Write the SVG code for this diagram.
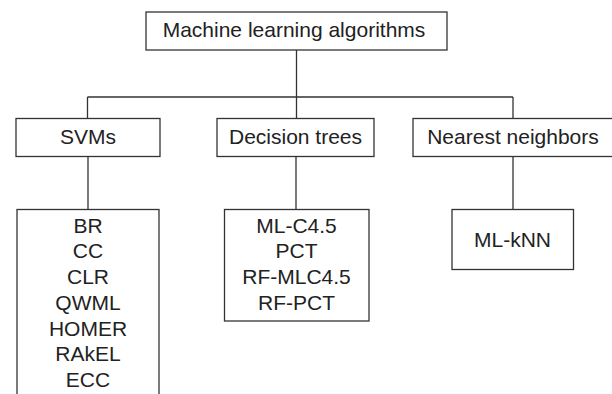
<svg xmlns="http://www.w3.org/2000/svg" width="612" height="394" viewBox="0 0 612 394">
<style>
.box{fill:#fff;stroke:#333;stroke-width:1.3}
.lbl{font-family:"Liberation Sans",Arial,sans-serif;font-size:21px;fill:#222;text-anchor:middle}
.con{fill:none;stroke:#333;stroke-width:1.3}
</style>
<rect width="612" height="394" fill="#fff"/>
<g id="connectors">
<path class="con" d="M296.5 50V97M87.5 97H513M87.5 97V118.5M296.5 97V118.5M513 97V118.5"/>
<path class="con" d="M88 156.5V209.5M296 156.5V209.5M513 156.5V209.5"/>
</g>
<g id="root">
<rect class="box" x="146" y="12" width="301" height="38"/>
<text class="lbl" x="294" y="37">Machine learning algorithms</text>
</g>
<g id="svms">
<rect class="box" x="16" y="118.5" width="144" height="38"/>
<text class="lbl" x="88" y="144">SVMs</text>
</g>
<g id="decision-trees">
<rect class="box" x="217" y="118.5" width="157" height="38"/>
<text class="lbl" x="295.5" y="144">Decision trees</text>
</g>
<g id="nearest-neighbors">
<rect class="box" x="413" y="118.5" width="200" height="38"/>
<text class="lbl" x="513" y="144">Nearest neighbors</text>
</g>
<g id="svm-list">
<rect class="box" x="17" y="209.5" width="142" height="200"/>
<text class="lbl" x="88" y="232.5">BR</text>
<text class="lbl" x="88" y="258">CC</text>
<text class="lbl" x="88" y="283.5">CLR</text>
<text class="lbl" x="88" y="309.5">QWML</text>
<text class="lbl" x="88" y="335.5">HOMER</text>
<text class="lbl" x="88" y="361">RAkEL</text>
<text class="lbl" x="88" y="386.5">ECC</text>
</g>
<g id="tree-list">
<rect class="box" x="224.5" y="209.5" width="144.5" height="111.5"/>
<text class="lbl" x="296.5" y="232.5">ML-C4.5</text>
<text class="lbl" x="296.5" y="258">PCT</text>
<text class="lbl" x="296.5" y="283.5">RF-MLC4.5</text>
<text class="lbl" x="296.5" y="309.5">RF-PCT</text>
</g>
<g id="knn-list">
<rect class="box" x="452" y="209.5" width="121.5" height="60"/>
<text class="lbl" x="512.5" y="246.5">ML-kNN</text>
</g>
</svg>
